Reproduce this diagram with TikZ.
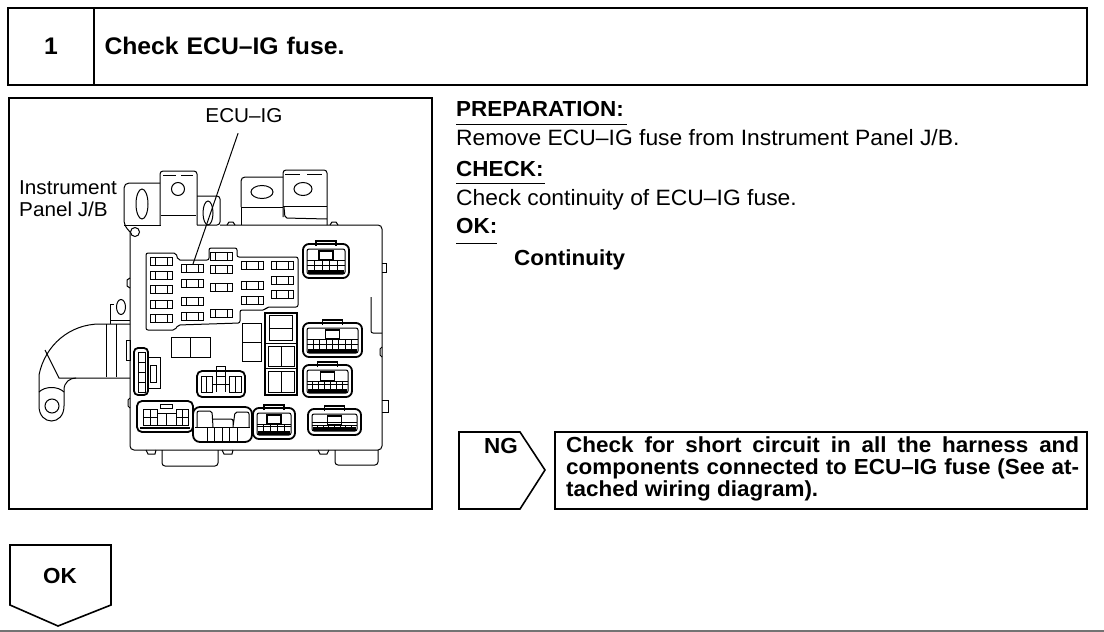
\documentclass[tikz,border=0pt]{standalone}
\usepackage{fontspec}
\setmainfont[FakeStretch=1.03]{Liberation Sans}
\usepackage{tikz}
\usetikzlibrary{positioning}
\tikzstyle{frame} = [draw=black, line width=2pt]
\tikzstyle{stepbox} = [rectangle, draw=black, line width=2pt, inner sep=0pt, font=\fontsize{24}{28}\selectfont\bfseries]
\tikzstyle{txt} = [inner sep=0pt, anchor=base west, font=\fontsize{22.2}{26}\selectfont]
\tikzstyle{head} = [txt, font=\fontsize{21.8}{26}\selectfont\bfseries]
\tikzstyle{lbl} = [inner sep=0pt, font=\fontsize{20.1}{22}\selectfont]
\tikzstyle{rule} = [draw=black, line width=1pt]
\tikzstyle{part} = [draw=black, line width=1pt]
\newcommand{\fuse}[2]{
  \draw[part] (#1,#2-4) rectangle (#1+22,#2+4);
  \draw[part] (#1+5,#2-4) -- (#1+5,#2+4) (#1+17,#2-4) -- (#1+17,#2+4);
}
\newcommand{\slot}[4]{
  \draw[part] (#1,#2) ellipse ({#3/2} and {#4/2});
}
\newcommand{\connbox}[5]{
  \draw[part, line width=1.8pt, rounded corners=6pt] (#1,#2) rectangle (#3,#4);
  \draw[part, rounded corners=2pt] (#1+4,#2+5) rectangle (#3-4,#4-4);
  \fill[black] (#1+5,#4-8) rectangle (#3-5,#4-4);
  \pgfmathsetmacro{\mx}{(#1+#3)/2}
  \draw[part, line width=1.4pt] (\mx-7,#2+7) rectangle (\mx+7,#2+16);
  \draw[part, line width=1.4pt] (\mx-10,#2+2) -- (\mx-10,#2-3) -- (\mx+10,#2-3) -- (\mx+10,#2+2);
  \foreach \i in {1,...,#5} {
    \pgfmathsetmacro{\cx}{#1+4+\i*(#3-#1-8)/(#5+1)}
    \draw[part] (\cx,#2+16) -- (\cx,#4-8);
  }
  \draw[part] (#1+4,#2+16) -- (#3-4,#2+16);
  \draw[part] (#1+4,#4-13) -- (#3-4,#4-13);
}
\begin{document}
\begin{tikzpicture}[x=1pt, y=-1pt]
  \useasboundingbox (0,0) rectangle (1104,632);

  % Step header
  \node[stepbox, minimum width=86pt, minimum height=77pt] (num) at (51,46) {1};
  \node[stepbox, minimum width=993pt, minimum height=77pt, text width=972pt, right=-2pt of num] (title) {Check ECU--IG fuse.};

  % Figure frame
  \draw[frame] (9,98) rectangle (432,509);

  % Bracket and towers on top of the J/B
  \draw[part, rounded corners=5pt] (130,232) -- (124,225) -- (124,183) -- (160,183);
  \draw[part] (124,225) -- (161,225);
  \slot{142}{204}{12}{30}
  \draw[part, rounded corners=3pt] (160,225) -- (160,171) -- (197,171) -- (197,225);
  \draw[part] (178,189) circle (6.5);
  \draw[part] (163,175) -- (176,175) (181,175) -- (193,175);
  \draw[part] (161,215) -- (196,215);
  \draw[part, rounded corners=3pt] (197,196) -- (220,196) -- (220,225) -- (197,225);
  \slot{208}{213}{10}{24}
  \draw[part] (135,232) circle (4.5);
  \draw[part, rounded corners=4pt] (241,207) -- (241,177) -- (283,177);
  \draw[part] (241,207) -- (283,207) (241,207) -- (241,225);
  \slot{262}{192}{22}{13}
  \draw[part, rounded corners=3pt] (283,217) -- (283,170) -- (327,170) -- (327,225);
  \draw[part] (285,174) -- (300,174) (307,174) -- (322,174);
  \slot{303}{189}{18}{13}
  \draw[part] (283,206) -- (327,206);
  \draw[part, rounded corners=2pt] (284,207) -- (285,218) -- (327,219);

  % Body of the J/B
  \draw[part, rounded corners=4pt] (130,232) -- (130,450) -- (382,450) -- (382,225) -- (220,225);
  \draw[part, rounded corners=3pt] (162,450) -- (162,466) -- (218,466) -- (218,450);
  \draw[part, rounded corners=3pt] (335,450) -- (335,465) -- (378,465) -- (378,450);
  \draw[part] (227,225) -- (229,222) -- (233,222) -- (235,225);
  \draw[part] (330,225) -- (332,222) -- (336,222) -- (338,225);
  \draw[part] (222,450) -- (224,454) -- (232,454) -- (233,450);
  \draw[part] (146,450) -- (148,454) -- (155,454) -- (156,450);
  \draw[part] (318,450) -- (320,454) -- (327,454) -- (329,450);
  \draw[part] (382,263) -- (386,263) -- (386,272) -- (382,272);
  \draw[part] (382,347) -- (380,349) -- (380,355) -- (382,357);
  \draw[part] (382,400) -- (388,400) -- (388,412) -- (382,412);
  \draw[part] (130,278) -- (127,280) -- (127,286) -- (130,288);
  \draw[part] (130,398) -- (128,400) -- (128,406) -- (130,408);
  \draw[part, rounded corners=2pt] (371,297) -- (371,333) -- (382,333);
  \draw[part] (126,340) rectangle (130,360);

  % Fuse panel
  \draw[part, rounded corners=2pt] (146,330) -- (146,253) -- (176,253) -- (178,260) -- (209,260) -- (209,248) -- (237,248) -- (237,257) -- (298,257) -- (298,307) -- (267,307) -- (265,310) -- (240,310) -- (240,323) -- (178,325) -- (175,330) -- cycle;
  \foreach \cx/\rows in {150/{261,275,289,304,318}, 181/{268,283,301,316}, 210/{256,269,287,313}, 241/{265,285,300}, 271/{265,280,294}} {
    \foreach \cy in \rows {
      \fuse{\cx}{\cy}
    }
  }

  % Relay blocks
  \draw[part] (171,337) rectangle (210,357);
  \draw[part] (190,337) -- (190,357);
  \draw[part] (242,323) rectangle (261,361);
  \draw[part] (242,342) -- (261,342);
  \draw[part, line width=1.3pt] (265,313) rectangle (297,395);
  \draw[part] (265,343) -- (297,343) (265,368) -- (297,368);
  \draw[part] (269,315) rectangle (292,340);
  \draw[part] (269,328) -- (292,328);
  \draw[part] (268,346) rectangle (294,366);
  \draw[part] (281,346) -- (281,366);
  \draw[part] (268,371) rectangle (294,392);
  \draw[part] (281,371) -- (281,392);

  % Connectors
  \connbox{303}{244}{349}{278}{4}
  \connbox{303}{323}{362}{357}{7}
  \connbox{303}{365}{352}{397}{6}
  \connbox{308}{409}{361}{435}{7}
  \connbox{253}{408}{295}{439}{4}

  % Lower left connector
  \draw[part, line width=1.8pt, rounded corners=5pt] (137,401) rectangle (193,432);
  \draw[part] (143,409) rectangle (157,425) (176,409) rectangle (188,425);
  \draw[part] (150,409) -- (150,425) (143,417) -- (157,417) (182,409) -- (182,425) (176,417) -- (188,417);
  \draw[part] (157,413) -- (176,413) (157,425) -- (176,425) (166,413) -- (166,425);
  \draw[part] (160,404) rectangle (172,408);
  \draw[part, line width=1.6pt] (140,428) -- (190,428);

  % Big square connector
  \draw[part, line width=1.8pt, rounded corners=7pt] (193,407) rectangle (252,442);
  \draw[part, rounded corners=2pt] (197,427) -- (197,411) -- (212,411) -- (213,427) (213,419) -- (233,419) -- (233,427) (233,427) -- (235,412) -- (249,412) -- (249,427);
  \draw[part] (195,427) -- (250,427);
  \foreach \vx in {207,214,222,229,237} {
    \draw[part] (\vx,427) -- (\vx,441);
  }

  % Middle connector
  \draw[part, line width=1.8pt, rounded corners=5pt] (197,371) rectangle (245,397);
  \draw[part] (201,376) rectangle (212,392) (229,376) rectangle (241,392);
  \draw[part] (206,376) -- (206,392) (235,376) -- (235,392) (212,384) -- (229,384);
  \draw[part] (216,366) rectangle (225,376);
  \draw[part] (216,376) -- (216,392) (225,376) -- (225,392);

  % Side connector
  \draw[part, line width=1.8pt, rounded corners=4pt] (134,348) rectangle (148,395);
  \draw[part] (148,357) -- (160,357) -- (160,388) -- (148,388);
  \draw[part] (138,352) rectangle (145,392);
  \draw[part] (138,362) -- (145,362) (138,372) -- (145,372) (138,382) -- (145,382);
  \draw[part] (150,365) rectangle (156,382);

  % Harness and lug
  \draw[part] (130,324) -- (100,324) .. controls (70,324) and (45,345) .. (39,375) -- (39,406) .. controls (39,426) and (64,426) .. (64,406) -- (64,390) .. controls (64,382) and (70,378) .. (76,378) -- (130,378);
  \draw[part] (45,350) -- (59,378) -- (76,378);
  \draw[part] (106,324) -- (106,377) (116,324) -- (116,377);
  \draw[part] (39,392) .. controls (45,386) and (58,386) .. (64,392);
  \draw[part] (52,406) circle (7);
  \draw[part] (110,324) -- (110,304) (110,320) -- (130,320);
  \draw[part] (110,304) -- (114,304);
  \slot{121}{307}{9}{15}

  % Figure labels
  \coordinate (fusetap) at (193,264);
  \node[lbl, minimum height=34pt, minimum width=10pt] (ecuig) at (244,116) {ECU--IG};
  \draw[part] (ecuig) -- (fusetap);
  \node[lbl, anchor=north west, align=left] (jb) at (19,180) {Instrument\\Panel J/B};

  % Right column
  \node[head] (prep) at (456,116) {PREPARATION:};
  \node[txt, below=29pt of prep.base west, anchor=base west] (remove) {Remove ECU--IG fuse from Instrument Panel J/B.};
  \node[head, below=31pt of remove.base west, anchor=base west] (check) {CHECK:};
  \node[txt, below=29pt of check.base west, anchor=base west] (cont) {Check continuity of ECU--IG fuse.};
  \node[head, below=28pt of cont.base west, anchor=base west] (okhead) {OK:};
  \node[head, below=32pt of okhead.base west, anchor=base west, xshift=58pt] (result) {Continuity};
  \draw[rule] (456,124) -- (627,124);
  \draw[rule] (456,183) -- (545,183);
  \draw[rule] (456,243) -- (497,243);

  % NG branch
  \draw[frame, line width=1.6pt] (459,432) -- (520,432) -- (545,470) -- (520,509) -- (459,509) -- cycle;
  \node[head] (ng) at (484,453) {NG};
  \node[stepbox, minimum width=532pt, minimum height=77pt] (repair) at (821,470.5) {};
  \node[head, align=left, anchor=north west, font=\fontsize{21.8}{22}\selectfont\bfseries] (repairtxt) at (566,436) {\makebox[513pt][s]{Check for short circuit in all the harness and}\\\makebox[513pt][s]{components connected to ECU--IG fuse (See at-}\\tached wiring diagram).};

  % OK branch
  \draw[frame, line width=1.6pt] (10,545) -- (111,545) -- (111,605) -- (58,626) -- (10,605) -- cycle;
  \node[head] (ok) at (43,583) {OK};

  % Page rule
  \coordinate (pageleft) at (0,630.5);
  \coordinate (pageright) at (1104,630.5);
  \draw[black!55, line width=2pt] (pageleft) -- (pageright);
\end{tikzpicture}
\end{document}
